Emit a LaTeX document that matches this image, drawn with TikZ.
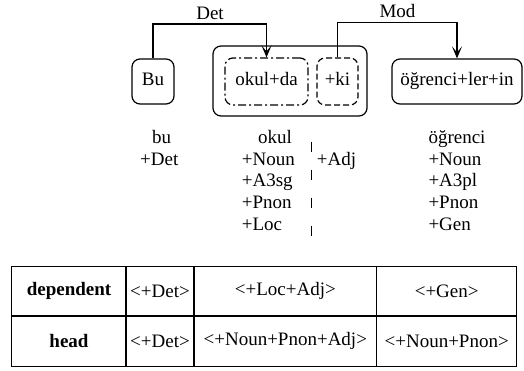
\documentclass[tikz,border=0pt]{standalone}
\usepackage{fontspec}
\setmainfont{Liberation Serif}
\usetikzlibrary{arrows.meta,positioning}
\begin{document}
\begin{tikzpicture}[x=1pt,y={(0,-1pt)},
  font=\fontsize{19}{22}\selectfont,
  box/.style={draw,line width=1.2pt,rounded corners=8pt,inner sep=0pt,text height=13pt,text depth=4pt},
  dd/.style={box,dash pattern=on 8pt off 3pt on 2pt off 3pt},
  ds/.style={box,dash pattern=on 6pt off 3pt},
  lbl/.style={inner sep=0pt},
  conn/.style={line width=1.2pt,-{Stealth[length=12pt,width=10pt,inset=6pt]}},
  cell/.style={inner sep=0pt},
  rule/.style={line width=1.2pt}]
\useasboundingbox (0,0) rectangle (524,371);
% boxes
\node[box,minimum width=42pt,minimum height=45pt] (bu) at (153,81.5) {Bu};
\node[box,minimum width=154pt,minimum height=70pt] (outer) at (290,81) {};
\node[dd,minimum width=83pt,minimum height=47pt] (okul) at (266.5,81.5) {okul+da};
\node[ds,minimum width=41pt,minimum height=47pt] (ki) at (337.5,81.5) {+ki};
\node[box,minimum width=130pt,minimum height=45pt] (ogr) at (457,81.5) {öğrenci+ler+in};
% connectors
\draw[conn] (bu.north) -- (153,24) -| (okul.north);
\draw[conn] (ki.north) -- (337.5,22.7) -| (ogr.north);
\node[lbl,anchor=base] (det) at (210,20) {Det};
\node[lbl,anchor=base] (mod) at (397.5,17.3) {Mod};
% analyses
\node[lbl,anchor=base] (a1) at (161.7,144) {bu};
\node[lbl,anchor=base west] (a2) at (140,165.3) {+Det};
\node[lbl,anchor=base] (b0) at (275,144) {okul};
\foreach \t [count=\i] in {+Noun,+A3sg,+Pnon,+Loc}
  \node[lbl,anchor=base west] (b\i) at (241.7,{165.3+21.7*(\i-1)}) {\t};
\node[lbl,anchor=base west] (adj) at (316.7,165.3) {+Adj};
\node[lbl,anchor=base west] (c0) at (428.3,144) {öğrenci};
\foreach \t [count=\i] in {+Noun,+A3pl,+Pnon,+Gen}
  \node[lbl,anchor=base west] (c\i) at (428.3,{165.3+21.7*(\i-1)}) {\t};
\coordinate (vtop) at (311.7,141.7);
\coordinate (vbot) at (311.7,238.3);
\draw[line width=1.2pt,dash pattern=on 10pt off 18pt] (vtop) -- (vbot);
% table
\draw[rule] (11.7,266.7) rectangle (516.7,366.7);
\draw[rule] (11.7,316) -- (516.7,316);
\foreach \x in {126,194,376.7} \draw[rule] (\x,266.7) -- (\x,366.7);
\node[cell] (t11) at (69,291.3) {\textbf{dependent}};
\node[cell] (t12) at (160,291.3) {<+Det>};
\node[cell] (t13) at (285.3,291.3) {<+Loc+Adj>};
\node[cell] (t14) at (446.7,291.3) {<+Gen>};
\node[cell] (t21) at (69,341.3) {\textbf{head}};
\node[cell] (t22) at (160,341.3) {<+Det>};
\node[cell] (t23) at (285.3,341.3) {<+Noun+Pnon+Adj>};
\node[cell] (t24) at (446.7,341.3) {<+Noun+Pnon>};
\end{tikzpicture}
\end{document}
